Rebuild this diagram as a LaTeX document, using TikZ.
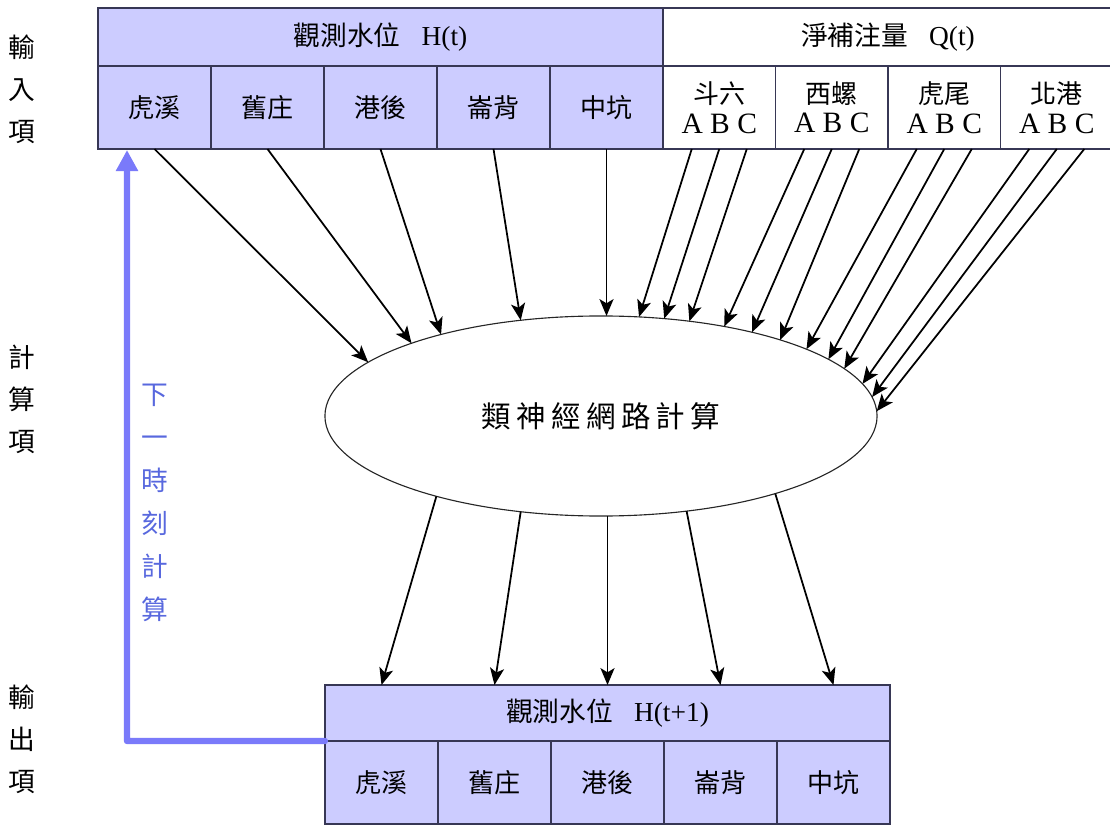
\documentclass[tikz,border=0pt]{standalone}
\usepackage{fontspec}
\setmainfont{Liberation Serif}
\newfontfamily\cjk{Noto Sans CJK TC}
\usetikzlibrary{shapes.geometric,arrows.meta}
\definecolor{cellblue}{RGB}{204,204,255}
\definecolor{bord}{RGB}{55,55,85}
\definecolor{backblue}{RGB}{122,122,250}
\definecolor{txtblue}{RGB}{88,104,222}
\newcommand\cjkgap{\hspace{3.8pt}}
\begin{document}
\begin{tikzpicture}[x=0.025cm,y=-0.025cm,
  hdr/.style={draw=bord, line width=0.9pt, fill=cellblue, inner sep=0pt, outer sep=0pt,
    minimum height=1.45cm, minimum width=14.125cm},
  cellb/.style={draw=bord, line width=0.9pt, fill=cellblue, inner sep=0pt, outer sep=0pt,
    minimum height=2.075cm, minimum width=2.825cm, align=center,
    font=\cjk\fontsize{18.5}{21}\selectfont},
  cellw/.style={cellb, fill=white, minimum width=2.8125cm},
  arr/.style={-{Stealth[length=12pt,width=10pt,inset=3pt]}, line width=1.25pt, black},
  backline/.style={draw=backblue, line width=4.5pt, line cap=round, line join=round,
    -{Triangle[length=15pt,width=15pt]}},
  side/.style={font=\cjk\fontsize{19}{29.8}\selectfont, align=center, inner sep=0pt},
  vtext/.style={font=\cjk\fontsize{19}{30.6}\selectfont, align=center, inner sep=0pt, text=txtblue}
]
\useasboundingbox (0,0) rectangle (1110,826);

% ---- top table ----
\node[hdr] (th) at (380.5,37) {{\cjk\fontsize{19}{22}\selectfont 觀測水位}\hspace{15pt}{\fontsize{19.5}{22}\selectfont H(t)}};
\node[hdr, fill=white, minimum width=11.25cm] (tq) at (888,37) {{\cjk\fontsize{19}{22}\selectfont 淨補注量}\hspace{15pt}{\fontsize{19.5}{22}\selectfont Q(t)}};

\node[cellb] (h1) at (154.5,107.5) {虎溪};
\node[cellb] (h2) at (267.5,107.5) {舊庄};
\node[cellb] (h3) at (380.5,107.5) {港後};
\node[cellb] (h4) at (493.5,107.5) {崙背};
\node[cellb] (h5) at (606.5,107.5) {中坑};

\node[cellw] (q1) at (719.25,107.5) {斗六\\{\rmfamily\fontsize{21}{21}\selectfont A B C}};
\node[cellw] (q2) at (831.75,107.5) {西螺\\{\rmfamily\fontsize{21}{21}\selectfont A B C}};
\node[cellw] (q3) at (944.25,107.5) {虎尾\\{\rmfamily\fontsize{21}{21}\selectfont A B C}};
\node[cellw] (q4) at (1056.75,107.5) {北港\\{\rmfamily\fontsize{21}{21}\selectfont A B C}};

% ---- ellipse ----
\node[ellipse, draw=black!85, line width=0.8pt, inner sep=0pt, outer sep=0pt,
      minimum width=13.8cm, minimum height=5cm,
      font=\cjk\fontsize{21}{25}\selectfont] (E) at (601,416)
  {類\cjkgap 神\cjkgap 經\cjkgap 網\cjkgap 路\cjkgap 計\cjkgap 算};

% ---- bottom table ----
\node[hdr, minimum height=1.4cm] (bh) at (607.5,713) {{\cjk\fontsize{19}{22}\selectfont 觀測水位}\hspace{15pt}{\fontsize{19.5}{22}\selectfont H(t+1)}};
\node[cellb] (b1) at (381.5,782.5) {虎溪};
\node[cellb] (b2) at (494.5,782.5) {舊庄};
\node[cellb] (b3) at (607.5,782.5) {港後};
\node[cellb] (b4) at (720.5,782.5) {崙背};
\node[cellb] (b5) at (833.5,782.5) {中坑};

% ---- side labels ----
\node[side] (lin) at (22,89) {輸\\入\\項};
\node[side] (lcal) at (22,399) {計\\算\\項};
\node[side] (lout) at (22,739) {輸\\出\\項};

% ---- arrows into ellipse ----
\draw[arr] (h1.south) -- (E.167.6);
\draw[arr] (h2.south) -- (E.159.5);
\draw[arr] (h3.south) -- (E.153.2);
\draw[arr] (h4.south) -- (E.130.3);
\draw[arr] (h5.south) -- (h5.south |- E.north);

\draw[arr] ([xshift=-0.6875cm]q1.south) -- (E.69.9);
\draw[arr] (q1.south) -- (E.57.6);
\draw[arr] ([xshift=0.6875cm]q1.south) -- (E.47.1);
\draw[arr] ([xshift=-0.6875cm]q2.south) -- (E.36.3);
\draw[arr] (q2.south) -- (E.29.5);
\draw[arr] ([xshift=0.6875cm]q2.south) -- (E.23.8);
\draw[arr] ([xshift=-0.6875cm]q3.south) -- (E.18.9);
\draw[arr] (q3.south) -- (E.14.3);
\draw[arr] ([xshift=0.6875cm]q3.south) -- (E.11.0);
\draw[arr] ([xshift=-0.6875cm]q4.south) -- (E.7.7);
\draw[arr] (q4.south) -- (E.4.3);
\draw[arr] ([xshift=0.6875cm]q4.south) -- (E.1);

% ---- arrows out of ellipse ----
\draw[arr] (E.206) -- (b1.north |- bh.north);
\draw[arr] (E.230.8) -- (b2.north |- bh.north);
\draw[arr] (b3.north |- E.south) -- (b3.north |- bh.north);
\draw[arr] (E.312.8) -- (b4.north |- bh.north);
\draw[arr] (E.336.5) -- (b5.north |- bh.north);

% ---- feedback line ----
\coordinate (turn) at (127,741);
\coordinate (top) at (127,150);
\draw[backline] (bh.south west) -- (turn) -- (top);
\node[vtext] (next) at (155,502.5) {下\\一\\時\\刻\\計\\算};
\end{tikzpicture}
\end{document}
